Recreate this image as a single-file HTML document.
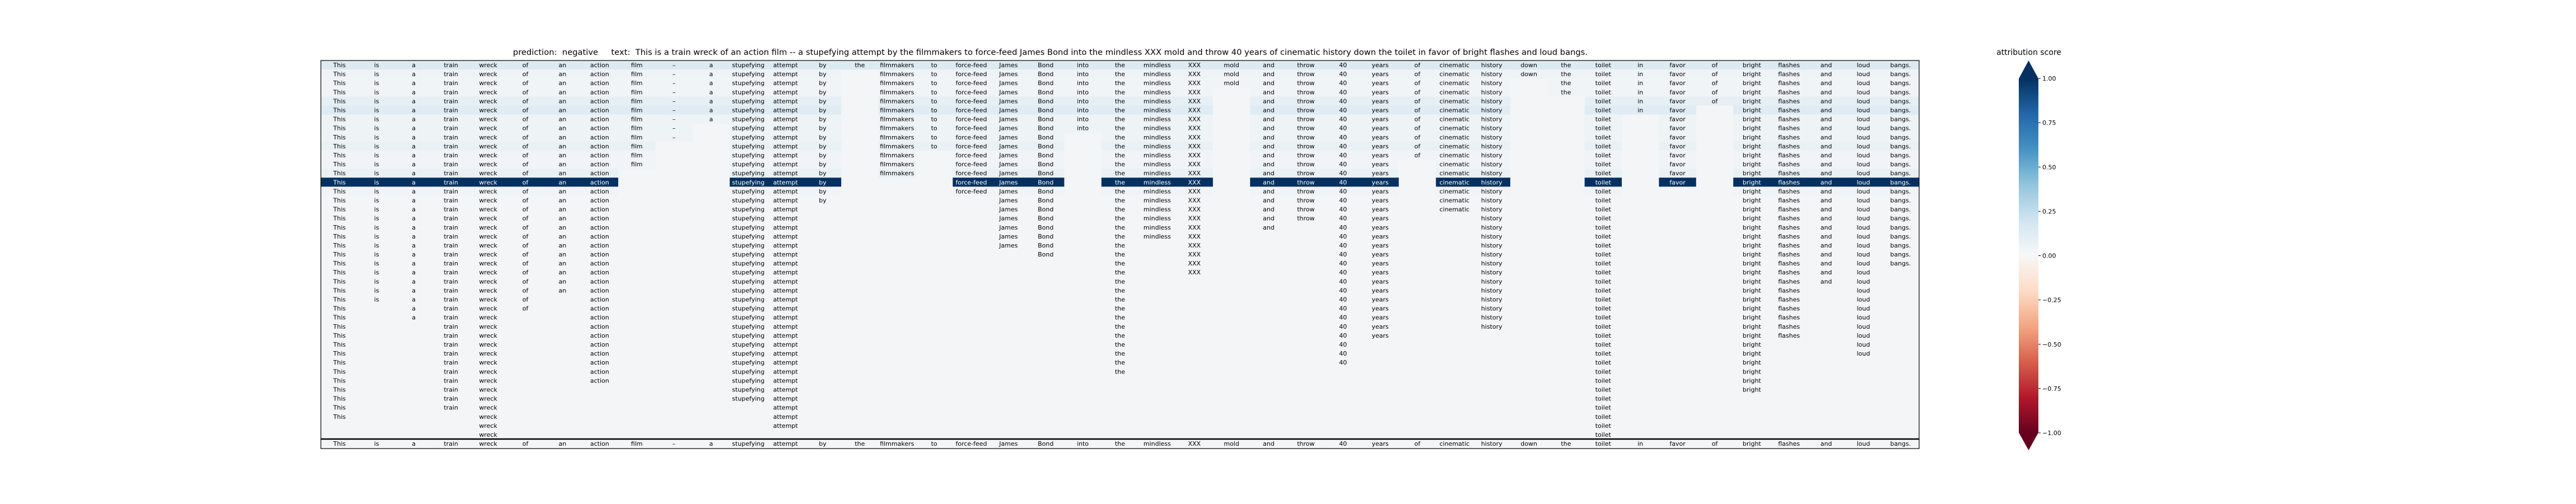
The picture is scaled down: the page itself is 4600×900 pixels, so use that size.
<!DOCTYPE html>
<html><head><meta charset="utf-8">
<style>
html,body{margin:0;padding:0;background:#fff;}
svg{display:block;font-family:"DejaVu Sans","Liberation Sans",sans-serif;}
</style></head>
<body>
<svg id="chart" width="4600" height="900" viewBox="0 0 4600 900" xmlns="http://www.w3.org/2000/svg">
<text x="916" y="98" font-size="14" textLength="1919" lengthAdjust="spacingAndGlyphs" xml:space="preserve">prediction:  negative     text:  This is a train wreck of an action film -- a stupefying attempt by the filmmakers to force-feed James Bond into the mindless XXX mold and throw 40 years of cinematic history down the toilet in favor of bright flashes and loud bangs.</text>
<g id="heat"></g>
<g id="cbar"></g>
</svg>
<script>
// tokens of the sentence (columns)
const tokens = ["This","is","a","train","wreck","of","an","action","film","–","a","stupefying","attempt","by","the","filmmakers","to","force-feed","James","Bond","into","the","mindless","XXX","mold","and","throw","40","years","of","cinematic","history","down","the","toilet","in","favor","of","bright","flashes","and","loud","bangs."];
// number of leading rows in which each token is still present
const keepCounts = [40,27,29,39,42,28,26,36,12,9,7,38,41,16,1,13,10,15,21,22,8,35,20,24,3,19,18,34,31,11,17,30,2,4,42,6,14,5,37,31,25,33,23];
// attribution score per row
const rowScores = [0.14,0.04,0.03,0.03,0.09,0.12,0.05,0.05,0.05,0.07,0.03,0.03,0.07,1.0,0.03,0.02,0.02,0.02,0.02,0.02,0.02,0.02,0.02,0.02,0.02,0.02,0.02,0.02,0.02,0.02,0.02,0.02,0.02,0.02,0.02,0.02,0.02,0.02,0.02,0.02,0.02,0.02];
const emptyScore = 0.02;
const originalScore = 0.02;
const cbTicks = [1.0,0.75,0.5,0.25,0.0,-0.25,-0.5,-0.75,-1.0];
const cbTickLabels = ["1.00","0.75","0.50","0.25","0.00","\u22120.25","\u22120.50","\u22120.75","\u22121.00"];

const stops = ["#67001f","#b2182b","#d6604d","#f4a582","#fddbc7","#f7f7f7","#d1e5f0","#92c5de","#4393c3","#2166ac","#053061"];
function hex(h){return [1,3,5].map(i=>parseInt(h.substr(i,2),16));}
function cmap(v){
  let t=Math.max(0,Math.min(1,(v+1)/2))*(stops.length-1);
  let i=Math.min(stops.length-2,Math.floor(t)),f=t-i;
  let a=hex(stops[i]),b=hex(stops[i+1]);
  return "rgb("+a.map((x,k)=>Math.round(x+(b[k]-x)*f)).join(",")+")";
}
const NS="http://www.w3.org/2000/svg";
function mk(tag,attrs,parent){const e=document.createElementNS(NS,tag);for(const k in attrs)e.setAttribute(k,attrs[k]);parent.appendChild(e);return e;}

const X0=573,X1=3427,Y0=108,YM=784,YB=801;
const nCols=tokens.length,nRows=rowScores.length;
const cw=(X1-X0)/nCols, rh=(YM-Y0)/nRows;
const xs=c=>X0+c*cw, ys=r=>Y0+r*rh;
const heat=document.getElementById('heat');

for(let r=0;r<nRows;r++){
  for(let c=0;c<nCols;c++){
    const present=r<keepCounts[c];
    const v=present?rowScores[r]:emptyScore;
    const rect=mk('rect',{x:xs(c),y:ys(r),width:cw+0.5,height:rh+0.5,fill:cmap(v)},heat);
    
    
    if(present){
      const t=mk('text',{x:xs(c)+cw/2,y:ys(r)+rh/2+4,'font-size':11,'text-anchor':'middle',fill:v>0.5?'#ffffff':'#000000'},heat);
      t.textContent=tokens[c];
      
      
    }
  }
}
// original sentence row
for(let c=0;c<nCols;c++){
  const rect=mk('rect',{x:xs(c),y:YM,width:cw+0.5,height:YB-YM,fill:cmap(originalScore)},heat);
  
  
  const t=mk('text',{x:xs(c)+cw/2,y:YM+12,'font-size':11,'text-anchor':'middle',fill:'#000'},heat);
  t.textContent=tokens[c];
  
  
}
const fr=mk('rect',{x:X0,y:Y0,width:X1-X0,height:YB-Y0,fill:'none',stroke:'#000','stroke-width':1.2},heat);


const sep=mk('line',{x1:X0,x2:X1,y1:YM,y2:YM,stroke:'#000','stroke-width':2.5},heat);



// colorbar
const cb=document.getElementById('cbar');
const CX0=3605,CX1=3640,CT=140,CB=773,TIP_T=108,TIP_B=804;
const cy=v=>CT+(1-v)*(CB-CT)/2;
const defs=mk('defs',{},cb);
const grad=mk('linearGradient',{id:'cbg',x1:0,y1:0,x2:0,y2:1},defs);
for(let i=0;i<=40;i++){const v=1-i/20;mk('stop',{offset:(i/40),'stop-color':cmap(v)},grad);}
const body=mk('rect',{x:CX0,y:CT,width:CX1-CX0,height:CB-CT,fill:'url(#cbg)'},cb);


const tt=mk('polygon',{points:`${CX0},${CT+0.5} ${CX1},${CT+0.5} ${(CX0+CX1)/2},${TIP_T}`,fill:cmap(1)},cb);


const tb=mk('polygon',{points:`${CX0},${CB-0.5} ${CX1},${CB-0.5} ${(CX0+CX1)/2},${TIP_B}`,fill:cmap(-1)},cb);


cbTicks.forEach((v,i)=>{
  const l=mk('line',{x1:CX1,x2:CX1+4,y1:cy(v),y2:cy(v),stroke:'#000','stroke-width':1},cb);
  
  
  const t=mk('text',{x:CX1+7,y:cy(v)+4,'font-size':11,fill:'#000'},cb);
  t.textContent=cbTickLabels[i];
  
  
});
const ct=mk('text',{x:3623,y:98,'font-size':14,'text-anchor':'middle',fill:'#000'},cb);
ct.textContent='attribution score';


</script>
</body></html>
